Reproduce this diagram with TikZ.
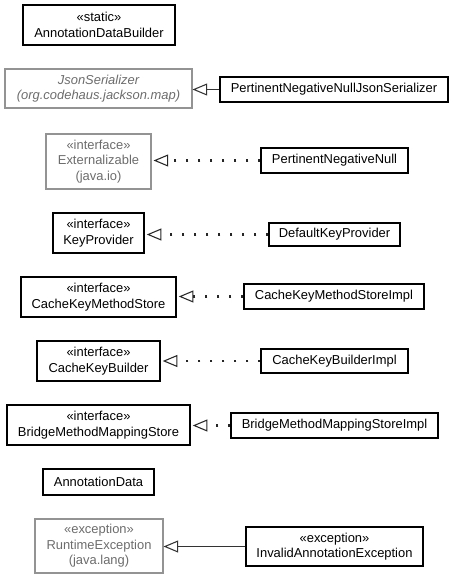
\documentclass[tikz,border=0pt]{standalone}
\usepackage{fontspec}
\setmainfont{Liberation Sans}
\usetikzlibrary{arrows.meta}

\tikzset{
  cls/.style={draw=black,line width=1.1pt,rectangle,align=center,inner sep=0pt,
    font=\fontsize{9.7}{11.7}\selectfont},
  ext/.style={cls,draw=gray!85,line width=0.8pt,text=gray!85!black},
  realize/.style={line width=1.6pt,dash pattern=on 1.6pt off 7.4pt,black!85,
    -{Triangle[open,length=11pt,width=9pt,line width=0.8pt,sep=1.5pt]}},
  inherit/.style={line width=0.8pt,black!80,
    -{Triangle[open,length=11pt,width=9pt,line width=0.8pt]}}
}

\begin{document}
\begin{tikzpicture}[x=0.75pt,y=-0.75pt]
   \useasboundingbox (0,0) rectangle (453,579);

   \node[cls,minimum width=114pt,minimum height=30pt] (adb) at (99,25)
      {«static»\\AnnotationDataBuilder};

   \node[ext,minimum width=140.25pt,minimum height=29.25pt,font=\fontsize{9.7}{11.7}\selectfont\itshape]
      (json) at (98.5,88.5) {JsonSerializer\\(org.codehaus.jackson.map)};
   \node[cls,minimum width=171pt,minimum height=18.75pt] (pnnjs) at (334,89.5)
      {PertinentNegativeNullJsonSerializer};

   \node[ext,minimum width=78.75pt,minimum height=41.25pt] (extz) at (98.5,161.5)
      {«interface»\\Externalizable\\(java.io)};
   \node[cls,minimum width=110.25pt,minimum height=18.75pt] (pnn) at (334.5,160.5)
      {PertinentNegativeNull};

   \node[cls,minimum width=68.25pt,minimum height=30pt] (kp) at (98.5,233)
      {«interface»\\KeyProvider};
   \node[cls,minimum width=98.25pt,minimum height=17.25pt] (dkp) at (334.5,234.5)
      {DefaultKeyProvider};

   \node[cls,minimum width=116.25pt,minimum height=30pt] (ckms) at (98.5,297)
      {«interface»\\CacheKeyMethodStore};
   \node[cls,minimum width=135pt,minimum height=18.75pt] (ckmsi) at (334,296.5)
      {CacheKeyMethodStoreImpl};

   \node[cls,minimum width=92.25pt,minimum height=30pt] (ckb) at (98.5,361)
      {«interface»\\CacheKeyBuilder};
   \node[cls,minimum width=110.25pt,minimum height=18pt] (ckbi) at (334.5,361)
      {CacheKeyBuilderImpl};

   \node[cls,minimum width=137.25pt,minimum height=30pt] (bmms) at (98.5,425)
      {«interface»\\BridgeMethodMappingStore};
   \node[cls,minimum width=155.25pt,minimum height=18.75pt] (bmmsi) at (334.5,425.5)
      {BridgeMethodMappingStoreImpl};

   \node[cls,minimum width=83.25pt,minimum height=19.5pt] (ad) at (98.5,482)
      {AnnotationData};

   \node[ext,minimum width=96pt,minimum height=40.5pt] (rte) at (99,546)
      {«exception»\\RuntimeException\\(java.lang)};
   \node[cls,minimum width=132.75pt,minimum height=29.25pt] (iae) at (334.5,546.5)
      {«exception»\\InvalidAnnotationException};

   % generalization / realization
   \draw[inherit] (pnnjs.west) -- (pnnjs.west -| json.east);
   \draw[realize] (pnn.west) -- (pnn.west -| extz.east);
   \draw[realize] (dkp.west) -- (dkp.west -| kp.east);
   \draw[realize] (ckmsi.west) -- (ckmsi.west -| ckms.east);
   \draw[realize] (ckbi.west) -- (ckbi.west -| ckb.east);
   \draw[realize] (bmmsi.west) -- (bmmsi.west -| bmms.east);
   \draw[inherit] (iae.west) -- (iae.west -| rte.east);

\end{tikzpicture}
\end{document}
